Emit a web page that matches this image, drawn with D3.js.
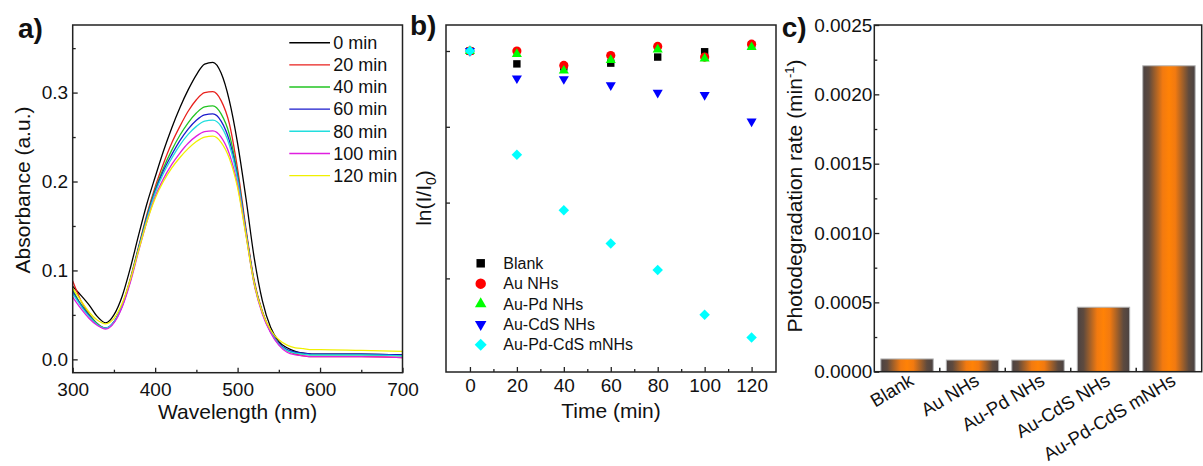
<!DOCTYPE html>
<html><head><meta charset="utf-8">
<script src="https://cdn.jsdelivr.net/npm/d3@7"></script>
<style>
html,body{margin:0;padding:0;background:#fff;}
svg{display:block;font-family:Arial,"Liberation Sans",sans-serif;}
</style></head><body>
<svg id="chart" width="1203" height="466"></svg>
<script>
// ---------- Panel a data: UV-vis spectra ----------
const wavelengths = [300,310,320,330,340,350,360,370,380,390,400,410,420,430,440,450,460,470,480,490,500,510,520,530,540,550,560,570,580,590,600,650,700];
const abs0min   = [0.082,0.072,0.061,0.048,0.041,0.050,0.071,0.103,0.140,0.175,0.205,0.234,0.260,0.283,0.303,0.320,0.332,0.334,0.322,0.291,0.243,0.182,0.115,0.066,0.036,0.020,0.013,0.009,0.007,0.006,0.006,0.006,0.005];
const abs20min  = [0.088,0.066,0.051,0.040,0.035,0.042,0.061,0.091,0.127,0.163,0.194,0.220,0.243,0.262,0.279,0.292,0.300,0.301,0.291,0.265,0.214,0.148,0.089,0.054,0.032,0.018,0.010,0.006,0.004,0.003,0.003,0.003,0.002];
const abs40min  = [0.078,0.062,0.050,0.040,0.035,0.042,0.061,0.090,0.126,0.161,0.191,0.215,0.235,0.252,0.266,0.277,0.284,0.285,0.276,0.253,0.208,0.145,0.087,0.053,0.031,0.017,0.010,0.007,0.006,0.005,0.005,0.005,0.004];
const abs60min  = [0.076,0.061,0.049,0.039,0.035,0.042,0.060,0.089,0.125,0.160,0.189,0.212,0.230,0.246,0.259,0.269,0.275,0.276,0.268,0.246,0.205,0.144,0.087,0.053,0.031,0.018,0.011,0.008,0.007,0.006,0.006,0.006,0.005];
const abs80min  = [0.074,0.060,0.048,0.039,0.035,0.042,0.060,0.089,0.124,0.158,0.187,0.209,0.226,0.241,0.253,0.262,0.268,0.269,0.262,0.241,0.202,0.143,0.086,0.052,0.031,0.017,0.010,0.007,0.006,0.005,0.005,0.005,0.004];
const abs100min = [0.070,0.057,0.046,0.038,0.034,0.041,0.059,0.087,0.122,0.155,0.183,0.203,0.219,0.232,0.243,0.251,0.256,0.257,0.250,0.231,0.196,0.141,0.085,0.051,0.030,0.016,0.008,0.005,0.004,0.003,0.003,0.003,0.002];
const abs120min = [0.080,0.066,0.053,0.044,0.040,0.046,0.063,0.090,0.123,0.155,0.181,0.200,0.215,0.227,0.237,0.245,0.250,0.251,0.244,0.226,0.193,0.140,0.086,0.053,0.033,0.022,0.016,0.013,0.012,0.011,0.011,0.010,0.009];
const spectraLabels = ["0 min","20 min","40 min","60 min","80 min","100 min","120 min"];
const spectraColors = ["#000000","#e8201c","#22c422","#1a1acc","#22dede","#e01fe0","#f0f000"];
const waveTicks = [300,400,500,600,700];
const absTicks = [0.0,0.1,0.2,0.3];

// ---------- Panel b data: ln(I/I0) vs time ----------
const times = [0,20,40,60,80,100,120];
const lnBlank    = [0,-0.017,-0.021,-0.016,-0.008,-0.001,0.008];
const lnAuNHs    = [0,0.000,-0.019,-0.006,0.006,-0.008,0.009];
const lnAuPdNHs  = [0,-0.004,-0.026,-0.012,0.002,-0.010,0.005];
const lnAuCdSNHs = [0,-0.036,-0.037,-0.045,-0.055,-0.058,-0.093];
const lnAuPdCdS  = [0,-0.137,-0.210,-0.254,-0.289,-0.348,-0.378];
const sampleNames = ["Blank","Au NHs","Au-Pd NHs","Au-CdS NHs","Au-Pd-CdS mNHs"];
const sampleColors = ["#000000","#ff0000","#00ff00","#0000ff","#00ffff"];
const timeTicks = [0,20,40,60,80,100,120];
const lnTicks = [0,-0.1,-0.2,-0.3];

// ---------- Panel c data: photodegradation rate ----------
const categories = ["Blank","Au NHs","Au-Pd NHs","Au-CdS NHs","Au-Pd-CdS mNHs"];
const rates = [0.000092,0.000084,0.000084,0.000465,0.002206];
const rateTicks = [0,0.0005,0.0010,0.0015,0.0020,0.0025];

const svg = d3.select("#chart");
const FRAME = "#222";
const FONT = 'Arial, "Liberation Sans", sans-serif';

function drawFrame(x0,y0,x1,y1){
  svg.append("rect").attr("x",x0).attr("y",y0).attr("width",x1-x0).attr("height",y1-y0)
    .attr("fill","none").attr("stroke",FRAME).attr("stroke-width",1.5);
}
function styleAxis(g,fs){
  g.select(".domain").remove();
  g.attr("font-family",FONT).attr("font-size",fs);
  g.selectAll(".tick line").attr("stroke",FRAME).attr("stroke-width",1.3);
  g.selectAll(".tick text").attr("fill","#111");
}
function label(x,y,txt,opts={}){
  const t = svg.append("text").attr("x",x).attr("y",y).text(txt)
    .attr("font-size",opts.size||21).attr("fill","#111")
    .attr("text-anchor",opts.anchor||"middle");
  if(opts.bold) t.attr("font-weight","bold");
  return t;
}

// ================= Panel a =================
const aL=72.7,aR=402.5,aT=25,aB=372.7;
const xA = d3.scaleLinear().domain([300,700]).range([aL,aR]);
const yA = d3.scaleLinear().domain([-0.015,0.376]).range([aB,aT]);
const spectra = [abs0min,abs20min,abs40min,abs60min,abs80min,abs100min,abs120min];
const lineA = d3.line().x(d=>xA(d[0])).y(d=>yA(d[1])).curve(d3.curveMonotoneX);
spectra.forEach((s,i)=>{
  svg.append("path").datum(wavelengths.map((w,j)=>[w,s[j]]))
    .attr("d",lineA).attr("fill","none").attr("stroke",spectraColors[i]).attr("stroke-width",1.3);
});
styleAxis(svg.append("g").attr("transform",`translate(0,${aB})`)
  .call(d3.axisBottom(xA).tickValues(waveTicks).tickSize(-5).tickPadding(10)),19);
styleAxis(svg.append("g").attr("transform",`translate(0,${aB})`)
  .call(d3.axisBottom(xA).tickValues([350,450,550,650]).tickSize(-3).tickFormat("")),19);
styleAxis(svg.append("g").attr("transform",`translate(${aL},0)`)
  .call(d3.axisLeft(yA).tickValues(absTicks).tickFormat(d3.format(".1f")).tickSize(-5).tickPadding(4.5)),19);
styleAxis(svg.append("g").attr("transform",`translate(${aL},0)`)
  .call(d3.axisLeft(yA).tickValues([0.05,0.15,0.25,0.35]).tickSize(-3).tickFormat("")),19);
drawFrame(aL,aT,aR,aB);
// legend
spectraLabels.forEach((lab,i)=>{
  const y = 42.7 + i*22.15;
  svg.append("line").attr("x1",289.3).attr("x2",330).attr("y1",y).attr("y2",y)
    .attr("stroke",spectraColors[i]).attr("stroke-width",1.4);
  label(333.3,y,lab,{size:18,anchor:"start"}).attr("dy","0.35em");
});
label((aL+aR)/2,419,"Wavelength (nm)");
label(0,0,"Absorbance (a.u.)").attr("transform","translate(29.5,190) rotate(-90)");
label(18,37.5,"a)",{size:28,bold:true,anchor:"start"});

// ================= Panel b =================
const bL=446,bR=776,bT=25,bB=372;
const xB = d3.scaleLinear().domain([-10.2,130.4]).range([bL,bR]);
const yB = d3.scaleLinear().domain([-0.4235,0.0343]).range([bB,bT]);
styleAxis(svg.append("g").attr("transform",`translate(0,${bB})`)
  .call(d3.axisBottom(xB).tickValues(timeTicks).tickSize(-5).tickPadding(7)),19);
styleAxis(svg.append("g").attr("transform",`translate(0,${bB})`)
  .call(d3.axisBottom(xB).tickValues([10,30,50,70,90,110]).tickSize(-3).tickFormat("")),19);
styleAxis(svg.append("g").attr("transform",`translate(${bL},0)`)
  .call(d3.axisLeft(yB).tickValues(lnTicks).tickSize(-4).tickFormat("")),19);
drawFrame(bL,bT,bR,bB);
const lnSeries = [lnBlank,lnAuNHs,lnAuPdNHs,lnAuCdSNHs,lnAuPdCdS];
function markerPath(i,scale){
  const s=scale||1;
  if(i===0) return {d:d3.symbol(d3.symbolSquare,55*s)(),rot:0};
  if(i===1) return {d:d3.symbol(d3.symbolCircle,66*s)(),rot:0};
  if(i===2) return {d:d3.symbol(d3.symbolTriangle,44*s)(),rot:0};
  if(i===3) return {d:d3.symbol(d3.symbolTriangle,44*s)(),rot:180};
  return {d:d3.symbol(d3.symbolSquare,55*s)(),rot:45};
}
lnSeries.forEach((ser,i)=>{
  const m = markerPath(i);
  svg.append("g").selectAll("path").data(times.map((t,j)=>[t,ser[j]])).join("path")
    .attr("d",m.d).attr("fill",sampleColors[i])
    .attr("transform",d=>`translate(${xB(d[0])},${yB(d[1])}) rotate(${m.rot})`);
});
sampleNames.forEach((nm,i)=>{
  const y = 263.3 + i*20.35;
  const m = markerPath(i,1.3);
  svg.append("path").attr("d",m.d).attr("fill",sampleColors[i])
    .attr("transform",`translate(480.7,${y}) rotate(${m.rot})`);
  label(503.3,y,nm,{size:16,anchor:"start"}).attr("dy","0.35em");
});
label((bL+bR)/2,418.3,"Time (min)");
const lnT = label(0,0,"ln(I/I").attr("transform","translate(431,198) rotate(-90)");
lnT.append("tspan").attr("font-size",14).attr("dy",5).text("0");
lnT.append("tspan").attr("dy",-5).text(")");
label(410,34.5,"b)",{size:28,bold:true,anchor:"start"});

// ================= Panel c =================
const cL=874.3,cR=1201.7,cT=25,cB=371.7;
const xC = d3.scaleBand().domain(categories).range([cL,cR]).paddingInner(0.2).paddingOuter(0.1);
const yC = d3.scaleLinear().domain([0,0.0025]).range([cB,cT]);
const defs = svg.append("defs");
const grad = defs.append("linearGradient").attr("id","barGrad").attr("x1","0").attr("x2","1").attr("y1","0").attr("y2","0");
[[0,"#4a4242"],[0.12,"#5e4a3e"],[0.38,"#f27a10"],[0.5,"#ff8206"],[0.62,"#f27a10"],[0.88,"#5e4a3e"],[1,"#4a4242"]]
  .forEach(s=>grad.append("stop").attr("offset",s[0]).attr("stop-color",s[1]));
svg.append("g").selectAll("rect").data(categories.map((c,i)=>[c,rates[i]])).join("rect")
  .attr("x",d=>xC(d[0])).attr("y",d=>yC(d[1])).attr("width",xC.bandwidth())
  .attr("height",d=>yC(0)-yC(d[1])).attr("fill","url(#barGrad)")
  .attr("stroke","#b4b4b4").attr("stroke-width",1);
styleAxis(svg.append("g").attr("transform",`translate(${cL},0)`)
  .call(d3.axisLeft(yC).tickValues(rateTicks).tickFormat(d3.format(".4f")).tickSize(-5).tickPadding(2)),19);
styleAxis(svg.append("g").attr("transform",`translate(${cL},0)`)
  .call(d3.axisLeft(yC).tickValues([0.00025,0.00075,0.00125,0.00175,0.00225]).tickSize(-3).tickFormat("")),19);
const gap = (xC.step()-xC.bandwidth())/2;
categories.slice(1).forEach(c=>{
  const x = xC(c)-gap;
  svg.append("line").attr("x1",x).attr("x2",x).attr("y1",cB).attr("y2",cB-4)
    .attr("stroke",FRAME).attr("stroke-width",1.5);
});
drawFrame(cL,cT,cR,cB);
categories.forEach(c=>{
  const cx = xC(c)+xC.bandwidth()/2;
  label(0,0,c,{size:18.5,anchor:"end"}).attr("transform",`translate(${cx+8},384) rotate(-31)`);
});
const pT = label(0,0,"Photodegradation rate (min").attr("transform","translate(801.7,196) rotate(-90)");
pT.append("tspan").attr("font-size",13).attr("dy",-8).text("-1");
pT.append("tspan").attr("dy",8).text(")");
label(781.7,37,"c)",{size:28,bold:true,anchor:"start"});
</script>
</body></html>
